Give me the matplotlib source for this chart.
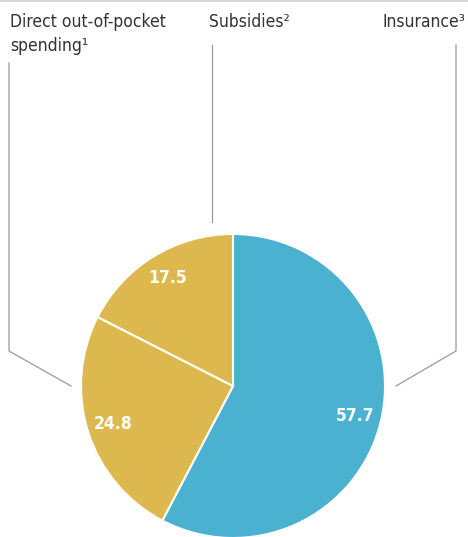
import matplotlib.pyplot as plt

# data
categories = ['Insurance³', 'Direct out-of-pocket\nspending¹', 'Subsidies²']
values = [57.7, 24.8, 17.5]
colors = ['#4BB1D1', '#DDB84E', '#DDB84E']

W, H = 468, 537
plt.rcParams['font.family'] = ['DejaVu Sans']
plt.rcParams['font.stretch'] = 'condensed'

fig = plt.figure(figsize=(W / 100, H / 100), dpi=100)
ax = fig.add_axes([0, 0, 1, 1])

# pie in pixel coordinates (y measured from the bottom)
cx, cy, r = 233, H - 386, 152
wedges, texts, autotexts = ax.pie(
    values, colors=colors, startangle=90, counterclock=False,
    center=(cx, cy), radius=r,
    autopct=lambda p: '{:.1f}'.format(p), pctdistance=0.83,
    wedgeprops=dict(edgecolor='white', linewidth=1.5),
    textprops=dict(color='white', fontsize=12.5, fontweight='bold',
                   fontstretch='condensed'))

ax.set_xlim(0, W)
ax.set_ylim(0, H)
ax.set_aspect('equal')
ax.axis('off')


def py(y):
    return H - y


line_kw = dict(color='#9a9a9a', linewidth=0.9)
# top rule
ax.plot([0, W], [py(1), py(1)], color='#d0d0d0', linewidth=1.2)
# leader lines
ax.plot([9, 9, 71], [py(63), py(351), py(386)], **line_kw)
ax.plot([212, 212], [py(45), py(222)], **line_kw)
ax.plot([456, 456, 396], [py(45), py(351), py(386)], **line_kw)

# category labels
txt_kw = dict(color='#333333', fontsize=12.5, va='top', linespacing=1.4,
              fontstretch='condensed')
ax.text(10, py(13), categories[1], ha='left', **txt_kw)
ax.text(209, py(13), categories[2], ha='left', **txt_kw)
ax.text(465, py(13), categories[0], ha='right', **txt_kw)

plt.savefig('out.png', dpi=100)
